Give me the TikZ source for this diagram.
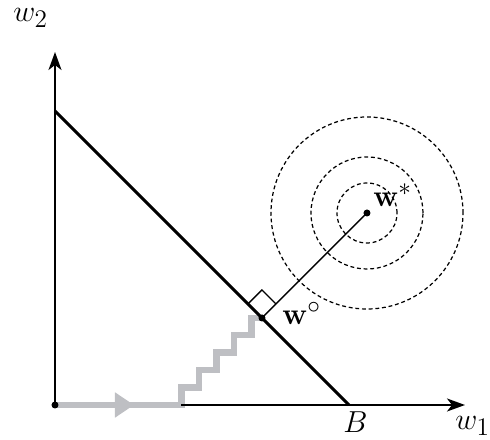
\documentclass[tikz,border=0pt]{standalone}
\usepackage{amsmath}
\usetikzlibrary{arrows.meta,positioning}
\definecolor{stairgray}{RGB}{190,191,195}
\tikzset{
  axis/.style={line width=1pt, -{Stealth[length=0.36cm,width=0.26cm,inset=0.1cm]}},
  budget/.style={line width=1.7pt},
  stair/.style={line width=3.6pt, draw=stairgray, line join=miter},
  level/.style={dash pattern=on 2.2pt off 1.6pt, line width=0.7pt},
  proj/.style={line width=0.8pt},
  dot/.style={circle, fill=black, inner sep=0pt, minimum size=0.14cm},
  lbl/.style={inner sep=0pt, font=\fontsize{19}{22}\selectfont}
}
\begin{document}
\begin{tikzpicture}
  \useasboundingbox (-1.1,-0.7) rectangle (8.7,8.1);

  \coordinate (O) at (0,0);
  \coordinate (xend) at (8.2,0);
  \coordinate (yend) at (0,7.06);
  \coordinate (a) at (0,5.88);
  \coordinate (b) at (5.88,0);
  \coordinate (wo) at (4.14,1.74);
  \coordinate (ws) at (6.24,3.84);

  \draw[level] (ws) circle (0.6);
  \draw[level] (ws) circle (1.12);
  \draw[level] (ws) circle (1.92);

  \draw[stair] (O) -- (2.53,0) -- (2.53,0.35) -- (2.88,0.35) -- (2.88,0.70)
    -- (3.23,0.70) -- (3.23,1.05) -- (3.58,1.05) -- (3.58,1.40)
    -- (3.93,1.40) -- (3.93,1.74) -- (wo);
  \draw[stair, -{Triangle[length=0.38cm,width=0.48cm]}] (O) -- (1.58,0);

  \draw[axis] (2.53,0) -- (xend);
  \draw[axis] (O) -- (yend);
  \draw[budget] (a) -- (b);
  \draw[proj] (wo) -- (ws);
  \draw[line width=0.8pt] (wo) ++(-0.28,0.28) -- ++(0.28,0.28) -- ++(0.28,-0.28);

  \node[dot] (origin) at (O) {};
  \node[dot] (wodot) at (wo) {};
  \node[dot] (wsdot) at (ws) {};

  \node[lbl, anchor=base west] (wolabel) at (4.54,1.6) {$\mathbf{w}^\circ$};
  \node[lbl, anchor=base west] (wslabel) at (6.36,3.96) {$\mathbf{w}^*$};
  \node[lbl, anchor=base west] (w2) at (-0.84,7.66) {$w_2$};
  \node[lbl, anchor=base west] (w1) at (8.0,-0.5) {$w_1$};
  \node[lbl, anchor=base west] (B) at (5.76,-0.56) {$B$};
\end{tikzpicture}
\end{document}
